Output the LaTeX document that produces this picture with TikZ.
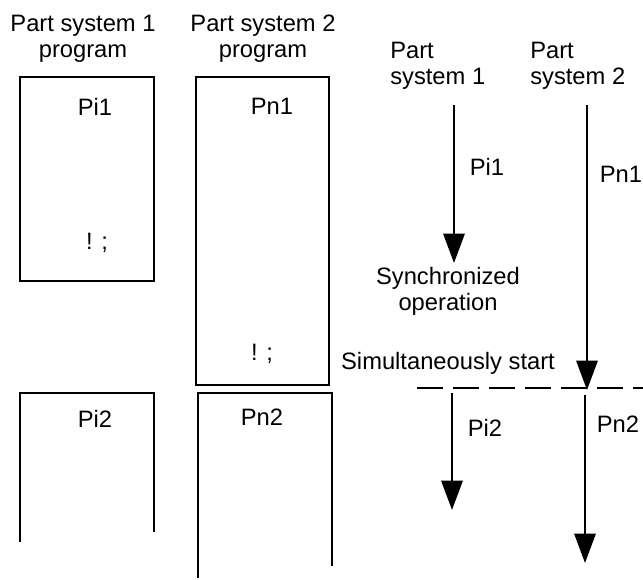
\documentclass[tikz,border=0pt]{standalone}
\usepackage{fontspec}
\setmainfont{Liberation Sans}
\usetikzlibrary{arrows.meta}

\begin{document}
\begin{tikzpicture}[x=0.75pt, y=-0.75pt,
        txt/.style={font=\fontsize{17.8}{19.5}\selectfont, inner sep=0pt, align=center},
        frame/.style={line width=1.6pt},
        flow/.style={line width=1.5pt, -{Triangle[width=16pt, length=22pt]}},
        sync/.style={line width=2pt, dash pattern=on 19.5pt off 7.5pt}]
        \useasboundingbox (0,0) rectangle (643,580);
        % program listings
        \draw[frame] (20,77) rectangle (154,281);
        \draw[frame] (196,77) rectangle (329,385);
        \draw[frame] (20,542) -- (20,393) -- (154,393) -- (154,532);
        \draw[frame] (198,578) -- (198,393) -- (332,393) -- (332,566);
        \node[txt] (hd1) at (83,39)  {Part system 1\\program};
        \node[txt] (hd2) at (263,39) {Part system 2\\program};
        \node[txt] (pi1) at (95,107)  {Pi1};
        \node[txt] (pn1) at (272,106) {Pn1};
        \node[txt] (wi1) at (97,243)  {! ;};
        \node[txt] (wn1) at (262,354) {! ;};
        \node[txt] (pi2) at (95,419)  {Pi2};
        \node[txt] (pn2) at (262,417) {Pn2};
        % time chart
        \node[txt, align=left, anchor=west] (ps1) at (390,66) {Part\\system 1};
        \node[txt, align=left, anchor=west] (ps2) at (530,66) {Part\\system 2};
        \coordinate (s1a) at (454,105);
        \coordinate (s1b) at (454,263);
        \coordinate (s2a) at (587,105);
        \coordinate (s2b) at (587,390);
        \coordinate (s1c) at (452,393);
        \coordinate (s1d) at (452,510);
        \coordinate (s2c) at (585,395);
        \coordinate (s2d) at (585,563);
        \coordinate (syl) at (417,388);
        \coordinate (syr) at (643,388);
        \draw[flow] (s1a) -- (s1b);
        \draw[flow] (s2a) -- (s2b);
        \draw[flow] (s1c) -- (s1d);
        \draw[flow] (s2c) -- (s2d);
        \draw[sync] (syl) -- (syr);
        \node[txt] (lpi1) at (487,167) {Pi1};
        \node[txt] (lpn1) at (621,174) {Pn1};
        \node[txt] (syn)  at (448,291) {Synchronized\\operation};
        \node[txt] (sim)  at (448,363) {Simultaneously start};
        \node[txt] (lpi2) at (485,428) {Pi2};
        \node[txt] (lpn2) at (618,424) {Pn2};
\end{tikzpicture}
\end{document}
